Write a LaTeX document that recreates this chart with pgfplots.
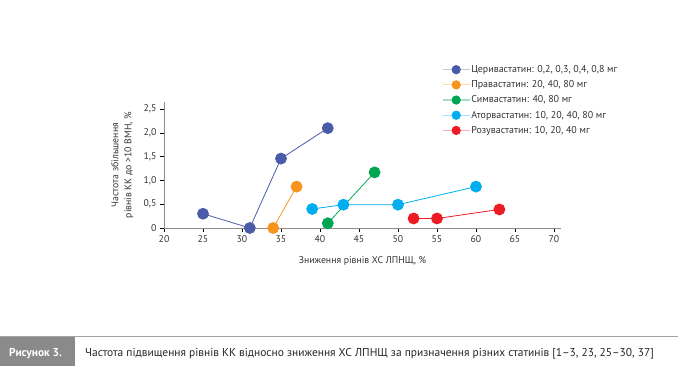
\documentclass[border=0pt]{standalone}
\usepackage{fontspec}
\setmainfont{PT Sans}
\usepackage{pgfplots}
\pgfplotsset{compat=1.18}
\definecolor{ceri}{HTML}{4A5BA8}
\definecolor{prava}{HTML}{F7941D}
\definecolor{simva}{HTML}{00A651}
\definecolor{atorva}{HTML}{00AEEF}
\definecolor{rosuva}{HTML}{ED1C24}
\definecolor{txt}{HTML}{333333}
\definecolor{axgray}{HTML}{8C8C8C}
\definecolor{boxgray}{HTML}{8A8A8A}
\begin{document}
\begin{tikzpicture}
\path[use as bounding box] (0bp,0bp) rectangle (682bp,366bp);
\begin{axis}[
  at={(164bp,138bp)}, anchor=south west,
  scale only axis, width=397bp, height=126bp,
  xmin=20, xmax=70.9, ymin=0, ymax=2.65,
  axis lines*=left,
  axis line style={draw=axgray, line width=1pt},
  xtick={20,25,...,70},
  ytick={0,0.5,1,1.5,2,2.5},
  yticklabels={0,{0,5},{1,0},{1,5},{2,0},{2,5}},
  tick style={black, line width=0.6pt},
  tick align=outside, major tick length=4bp,
  ticklabel style={font=\fontsize{9.8}{11}\selectfont, text=txt},
  /pgf/number format/assume math mode=true,
  clip=false,
  xlabel={Зниження рівнів ХС ЛПНЩ, \%},
  xlabel style={at={(axis description cs:0.5,-0.26)}, anchor=center, font=\fontsize{9.8}{11}\selectfont, text=txt},
  ylabel={Частота збільшення\\рівнів КК до >10 ВМН, \%},
  ylabel style={at={(axis description cs:-0.105,0.5)}, anchor=center, align=center, font=\fontsize{9.8}{13}\selectfont, text=txt},
  every axis plot/.append style={line width=0.8pt, mark=*, mark size=5.5bp},
  legend style={at={(axis description cs:0.700,1.300)}, anchor=north west, draw=none, fill=none,
    font=\fontsize{10}{11}\selectfont, text=txt, row sep=4.6bp, inner sep=0pt,
    nodes={inner sep=1pt}},
  legend cell align=left,
  legend image code/.code={%
    \draw[#1, draw opacity=0.35, mark=none, line width=1.2pt] (0bp,0bp) -- (27bp,0bp);
    \draw[#1, mark size=4.2bp] plot coordinates {(13.5bp,0bp)};},
]
\addplot[color=ceri, mark options={fill=ceri, draw=ceri}] coordinates {(25,0.3) (31,0) (35,1.46) (41,2.1)};
\addlegendentry{Церивастатин: 0,2, 0,3, 0,4, 0,8 мг}
\addplot[color=prava, mark options={fill=prava, draw=prava}] coordinates {(34,0) (37,0.87)};
\addlegendentry{Правастатин: 20, 40, 80 мг}
\addplot[color=simva, mark options={fill=simva, draw=simva}] coordinates {(41,0.1) (47,1.17)};
\addlegendentry{Симвастатин: 40, 80 мг}
\addplot[color=atorva, mark options={fill=atorva, draw=atorva}] coordinates {(39,0.4) (43,0.49) (50,0.49) (60,0.87)};
\addlegendentry{Аторвастатин: 10, 20, 40, 80 мг}
\addplot[color=rosuva, mark options={fill=rosuva, draw=rosuva}] coordinates {(52,0.2) (55,0.2) (63,0.39)};
\addlegendentry{Розувастатин: 10, 20, 40 мг}
\end{axis}
\draw[axgray!80, line width=1pt] (0bp,30bp) -- (678bp,30bp);
\fill[boxgray] (0bp,0bp) rectangle (75bp,29bp);
\node[anchor=west, inner sep=0pt, text=white, font=\bfseries\fontsize{11.5}{13}\selectfont] at (9bp,12.5bp) {Рисунок 3.};
\node[anchor=west, inner sep=0pt, text=black!85, font=\fontsize{11.5}{13}\selectfont] at (85bp,12.5bp) {Частота підвищення рівнів КК відносно зниження ХС ЛПНЩ за призначення різних статинів [1--3, 23, 25--30, 37]};
\end{tikzpicture}
\end{document}
